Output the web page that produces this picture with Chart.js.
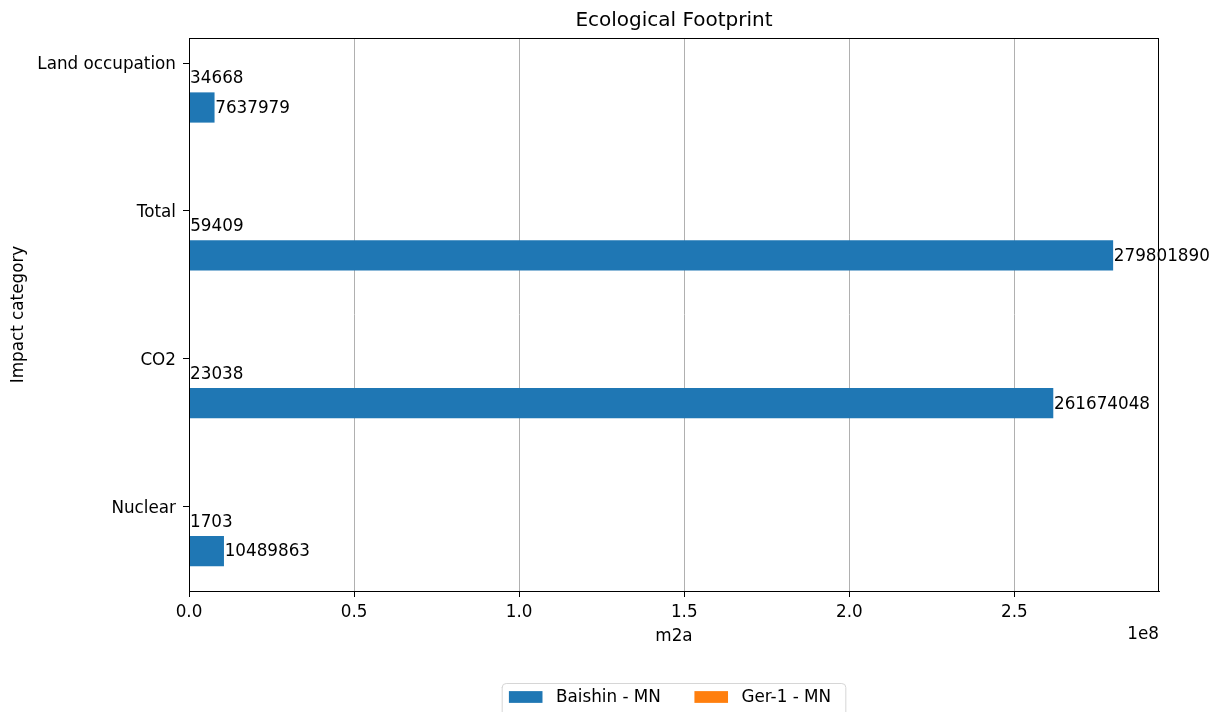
<!DOCTYPE html>
<html>
<head>
<meta charset="utf-8">
<script src="https://cdn.jsdelivr.net/npm/chart.js@4/dist/chart.umd.min.js"></script>
<style>
html, body { margin: 0; padding: 0; background: #ffffff; }
#wrap { width: 1214px; height: 712px; }
</style>
</head>
<body>
<div id="wrap"><canvas id="c" width="1214" height="712"></canvas></div>
<script>
// ---- data (categories listed bottom to top, as on the y axis) ----
const categories = ['Nuclear', 'CO2', 'Total', 'Land occupation'];
const seriesNames = ['Baishin - MN', 'Ger-1 - MN'];
const baishin = [10489863, 261674048, 279801890, 7637979];
const ger1 = [1703, 23038, 59409, 34668];
const xTickValues = [0, 0.5e8, 1.0e8, 1.5e8, 2.0e8, 2.5e8];
const xTickLabels = ['0.0', '0.5', '1.0', '1.5', '2.0', '2.5'];
const xOffsetLabel = '1e8';
const chartTitle = 'Ecological Footprint';
const xTitle = 'm2a';
const yTitle = 'Impact category';

// ---- styling / layout ----
const FONT = 'DejaVu Sans';
const FS = 16.8;
const colors = ['#1f77b4', '#ff7f0e'];
const barOffsets = [-0.3, -0.1];
const allVals = baishin.concat(ger1);
const xMax = Math.max(...allVals) * 1.05;
const yMin = -0.57, yMax = 3.17;

Chart.defaults.font.family = FONT;
Chart.defaults.font.size = FS;
Chart.defaults.color = '#000';

function toPoints(values, off) {
  return values.map((v, i) => ({ x: v, y: i + off }));
}

const centerTitle = {
  id: 'centerTitle',
  afterLayout(chart) {
    const t = chart.titleBlock;
    if (t) {
      t.left = chart.chartArea.left;
      t.right = chart.chartArea.right;
      t.width = t.right - t.left;
    }
  }
};

const extras = {
  id: 'extras',
  afterDraw(chart) {
    const ctx = chart.ctx;
    const ca = chart.chartArea;
    ctx.save();
    // value labels at bar ends
    ctx.font = FS + 'px "' + FONT + '"';
    ctx.fillStyle = '#000';
    ctx.textAlign = 'left';
    ctx.textBaseline = 'middle';
    chart.data.datasets.forEach((ds, di) => {
      const meta = chart.getDatasetMeta(di);
      meta.data.forEach((el, i) => {
        ctx.fillText(String(ds.data[i].x), el.x + 1, el.y + 1);
      });
    });
    // axes frame
    ctx.strokeStyle = '#000';
    ctx.lineWidth = 1;
    ctx.strokeRect(Math.round(ca.left) + 0.5, Math.round(ca.top) + 0.5,
      Math.round(ca.right - ca.left) - 1, Math.round(ca.bottom - ca.top));
    // offset text for the x axis
    ctx.textAlign = 'right';
    ctx.textBaseline = 'alphabetic';
    ctx.fillText(xOffsetLabel, ca.right, ca.bottom + 48);
    // legend below the plot
    const handle = 2 * FS, textPad = 0.8 * FS, colSp = 2 * FS, bPad = 0.4 * FS;
    const items = chart.data.datasets.map(ds => ({ label: ds.label, color: ds.backgroundColor, w: ctx.measureText(ds.label).width }));
    let inner = 0;
    items.forEach((it, k) => { inner += handle + textPad + it.w + (k < items.length - 1 ? colSp : 0); });
    const fw = inner + 2 * bPad + 8;
    const cx = (ca.left + ca.right) / 2;
    const fx = cx - fw / 2;
    const fy = chart.height - 29;
    const fh = 36;
    ctx.beginPath();
    const r = 4;
    ctx.moveTo(fx + r, fy + 0.5);
    ctx.lineTo(fx + fw - r, fy + 0.5);
    ctx.arcTo(fx + fw, fy + 0.5, fx + fw, fy + r, r);
    ctx.lineTo(fx + fw, fy + fh);
    ctx.lineTo(fx, fy + fh);
    ctx.lineTo(fx, fy + r);
    ctx.arcTo(fx, fy + 0.5, fx + r, fy + 0.5, r);
    ctx.closePath();
    ctx.fillStyle = '#ffffff';
    ctx.fill();
    ctx.strokeStyle = '#d6d6d6';
    ctx.stroke();
    let x = fx + bPad;
    const cy = fy + 14;
    ctx.textAlign = 'left';
    ctx.textBaseline = 'middle';
    items.forEach(it => {
      ctx.fillStyle = it.color;
      ctx.fillRect(x, cy - 0.35 * FS, handle, 0.7 * FS);
      ctx.fillStyle = '#000';
      ctx.fillText(it.label, x + handle + textPad, cy + 1);
      x += handle + textPad + it.w + colSp;
    });
    ctx.restore();
  }
};

new Chart(document.getElementById('c'), {
  type: 'bar',
  data: {
    datasets: [
      { label: seriesNames[0], data: toPoints(baishin, barOffsets[0]), backgroundColor: colors[0],
        grouped: false, categoryPercentage: 1, barPercentage: 1, borderWidth: 0 },
      { label: seriesNames[1], data: toPoints(ger1, barOffsets[1]), backgroundColor: colors[1],
        grouped: false, categoryPercentage: 1, barPercentage: 1, borderWidth: 0 }
    ]
  },
  options: {
    indexAxis: 'y',
    responsive: false,
    animation: false,
    layout: { padding: { left: 0, right: 55, top: 0, bottom: 65 } },
    plugins: {
      legend: { display: false },
      tooltip: { enabled: false },
      title: {
        display: true, text: chartTitle, color: '#000',
        font: { family: FONT, size: 20, weight: 'normal' },
        padding: { top: 9, bottom: 5 }
      }
    },
    scales: {
      x: {
        type: 'linear', position: 'bottom', min: 0, max: xMax, z: 1, offset: false,
        afterBuildTicks: s => { s.ticks = xTickValues.map(v => ({ value: v })); },
        afterFit: s => { s.height = 56; },
        ticks: { callback: (v, i) => xTickLabels[i], color: '#000', padding: 6, maxRotation: 0, autoSkip: false,
                 font: { family: FONT, size: FS } },
        grid: { color: '#b0b0b0', lineWidth: 1, tickLength: 6, tickColor: '#000', drawOnChartArea: true, offset: false },
        border: { display: true, color: '#000', width: 1 },
        title: { display: true, text: xTitle, color: '#000', font: { family: FONT, size: FS }, padding: { top: 0, bottom: 0 } }
      },
      y: {
        type: 'linear', position: 'left', min: yMin, max: yMax, offset: false,
        afterBuildTicks: s => { s.ticks = categories.map((c, i) => ({ value: i })); },
        afterFit: s => { s.width = 189; },
        ticks: { callback: (v, i) => categories[i], color: '#000', padding: 7, autoSkip: false, labelOffset: 2,
                 font: { family: FONT, size: FS } },
        grid: { drawOnChartArea: false, drawTicks: true, tickLength: 6, tickColor: '#000', lineWidth: 1, offset: false },
        border: { display: true, color: '#000', width: 1 },
        title: { display: true, text: yTitle, color: '#000', font: { family: FONT, size: FS }, padding: { top: 9, bottom: 0 } }
      }
    }
  },
  plugins: [centerTitle, extras]
});
</script>
</body>
</html>
